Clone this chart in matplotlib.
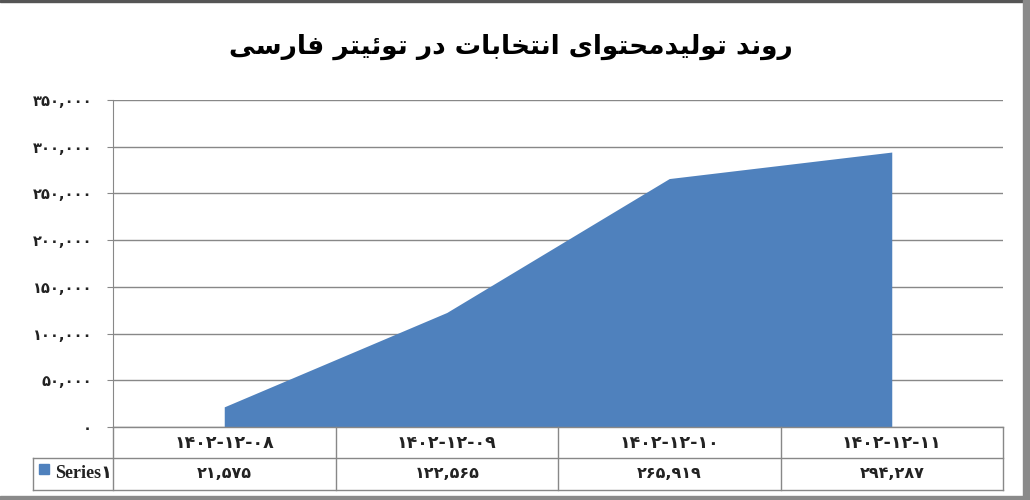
import matplotlib
matplotlib.use("Agg")
import matplotlib.pyplot as plt
import matplotlib.transforms as mtransforms
from matplotlib.patches import Rectangle
from matplotlib.lines import Line2D

# ---------------- data ----------------
categories = ["۱۴۰۲-۱۲-۰۸", "۱۴۰۲-۱۲-۰۹", "۱۴۰۲-۱۲-۱۰", "۱۴۰۲-۱۲-۱۱"]
values = [21575, 122565, 265919, 294287]
series_name = "Series۱"
title_text = "روند تولیدمحتوای انتخابات در توئیتر فارسی"
y_ticks = [0, 50000, 100000, 150000, 200000, 250000, 300000, 350000]

# ---------------- Arabic/Persian shaping (presentation forms) ----------------
# (isolated, final, initial, medial); None for non-left-joining letters
FORMS = {
    "ا": ("\uFE8D", "\uFE8E", None, None),
    "ب": ("\uFE8F", "\uFE90", "\uFE91", "\uFE92"),
    "ت": ("\uFE95", "\uFE96", "\uFE97", "\uFE98"),
    "ح": ("\uFEA1", "\uFEA2", "\uFEA3", "\uFEA4"),
    "خ": ("\uFEA5", "\uFEA6", "\uFEA7", "\uFEA8"),
    "د": ("\uFEA9", "\uFEAA", None, None),
    "ر": ("\uFEAD", "\uFEAE", None, None),
    "س": ("\uFEB1", "\uFEB2", "\uFEB3", "\uFEB4"),
    "ف": ("\uFED1", "\uFED2", "\uFED3", "\uFED4"),
    "ل": ("\uFEDD", "\uFEDE", "\uFEDF", "\uFEE0"),
    "م": ("\uFEE1", "\uFEE2", "\uFEE3", "\uFEE4"),
    "ن": ("\uFEE5", "\uFEE6", "\uFEE7", "\uFEE8"),
    "و": ("\uFEED", "\uFEEE", None, None),
    "ئ": ("\uFE89", "\uFE8A", "\uFE8B", "\uFE8C"),
    "ی": ("\uFEEF", "\uFEF0", "\uFEF3", "\uFEF4"),
}


def shape(text):
    out = []
    n = len(text)
    for i, ch in enumerate(text):
        if ch not in FORMS:
            out.append(ch)
            continue
        iso, fin, ini, med = FORMS[ch]
        prev = text[i - 1] if i > 0 else None
        nxt = text[i + 1] if i + 1 < n else None
        join_prev = prev in FORMS and FORMS[prev][2] is not None
        join_next = nxt in FORMS and ini is not None
        if join_prev and join_next:
            out.append(med)
        elif join_prev:
            out.append(fin)
        elif join_next:
            out.append(ini)
        else:
            out.append(iso)
    return "".join(out)[::-1]


def fmt_fa(v):
    s = f"{v:,}"
    return s.translate(str.maketrans("0123456789", "۰۱۲۳۴۵۶۷۸۹"))


# ---------------- figure ----------------
W, H = 1030, 500
fig = plt.figure(figsize=(W / 100, H / 100), dpi=100)
fig.patch.set_facecolor("white")

x0, x1 = 113, 1003
ytop, ybot = 100, 427
row1, row2 = 458, 490
ax = fig.add_axes([x0 / W, 1 - ybot / H, (x1 - x0) / W, (ybot - ytop) / H])

xs = list(range(len(values)))
ax.fill_between(xs, 0, values, color="#4F81BD", linewidth=0, zorder=2)
ax.set_xlim(-0.5, len(values) - 0.5)
ax.set_ylim(0, 350000)
ax.set_yticks(y_ticks)
ax.set_yticklabels([fmt_fa(v) for v in y_ticks], family=["DejaVu Sans"],
                   fontsize=10.5, fontweight="bold", color="#222222")
ax.set_xticks([])
ax.grid(axis="y", color="#888888", linewidth=1.0, zorder=1)
for s in ["top", "right", "bottom"]:
    ax.spines[s].set_visible(False)
ax.spines["left"].set_color("#888888")
ax.tick_params(axis="y", length=4, color="#888888", pad=11)

# ---------------- data table ----------------
gray = "#888888"
trans = mtransforms.blended_transform_factory(ax.transData, fig.transFigure)


def fy(py):
    return 1 - py / H


def fx(px):
    return px / W


def hline(px0, px1, py):
    fig.add_artist(Line2D([fx(px0), fx(px1)], [fy(py), fy(py)], color=gray, lw=1.0))


def vline(px, py0, py1):
    fig.add_artist(Line2D([fx(px), fx(px)], [fy(py0), fy(py1)], color=gray, lw=1.0))


hline(x0, x1, ybot)
hline(33, x1, row1)
hline(33, x1, row2)
vline(x0, ybot, row2)
vline(33, row1, row2)
for i in range(1, len(values) + 1):
    xb = fx(x0 + (x1 - x0) * i / len(values))
    fig.add_artist(Line2D([xb, xb], [fy(ybot), fy(row2)], color=gray, lw=1.0))

for i, (c, v) in enumerate(zip(categories, values)):
    fig.text(i, fy((ybot + row1) / 2), c, transform=trans, ha="center", va="center",
             fontsize=12.5, fontweight="bold", family=["DejaVu Sans"], color="#222222")
    fig.text(i, fy((row1 + row2) / 2), fmt_fa(v), transform=trans, ha="center", va="center",
             fontsize=11.5, fontweight="bold", family=["DejaVu Sans"], color="#222222")

fig.add_artist(Rectangle((fx(39), fy(474)), 10 / W, 10 / H, color="#4F81BD",
                         transform=fig.transFigure))
fig.text(fx(55), fy((row1 + row2) / 2), series_name, ha="left", va="center",
         fontsize=13, fontweight="bold", family=["Liberation Serif", "DejaVu Sans"],
         color="#222222")

# ---------------- title ----------------
fig.text(fx(511), fy(47), shape(title_text), ha="center", va="center",
         fontsize=19, fontweight="bold", family=["DejaVu Sans"], color="black")

# ---------------- outer frame ----------------
fig.add_artist(Rectangle((0, 1 - 2 / H), 1, 2 / H, color="#555555", transform=fig.transFigure))
fig.add_artist(Rectangle((1 - 7 / W, 0), 7 / W, 1, color="#8a8a8a", transform=fig.transFigure))
fig.add_artist(Rectangle((0, 0), 1, 4 / H, color="#8a8a8a", transform=fig.transFigure))

fig.savefig("out.png", dpi=100, facecolor="white")
